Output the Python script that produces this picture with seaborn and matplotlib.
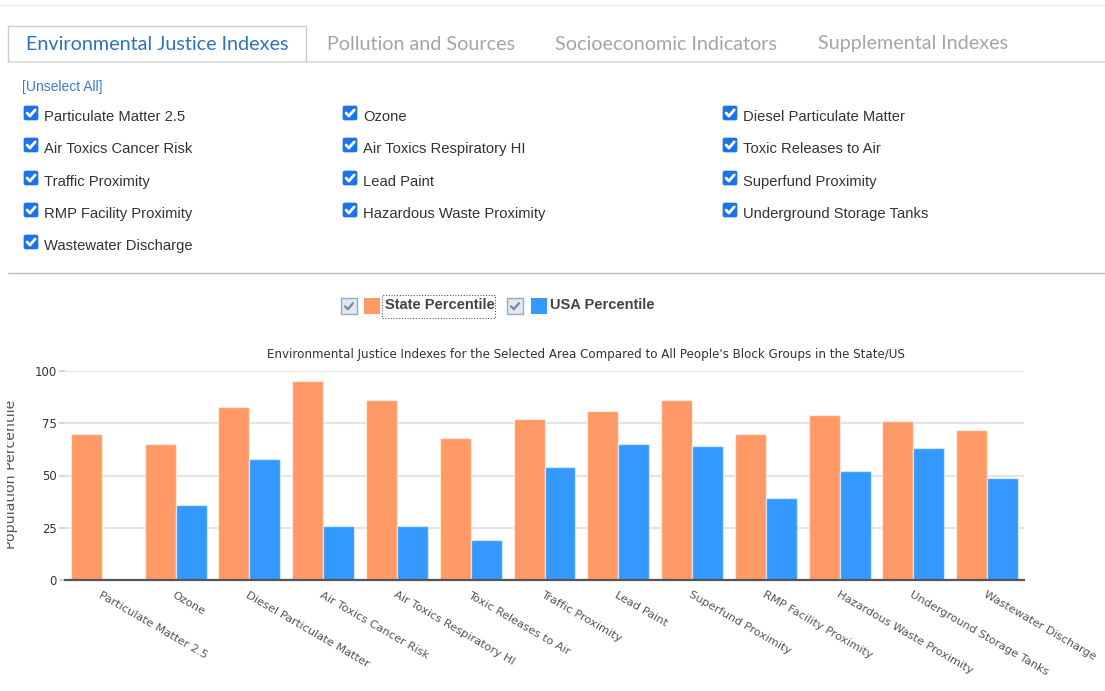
import numpy as np
import pandas as pd
import matplotlib
matplotlib.use("Agg")
import matplotlib.pyplot as plt
import seaborn as sns
from matplotlib.patches import FancyBboxPatch, Rectangle
from matplotlib.lines import Line2D
from matplotlib.transforms import Bbox, TransformedBbox

# ---------------- data ----------------
categories = [
    "Particulate Matter 2.5", "Ozone", "Diesel Particulate Matter",
    "Air Toxics Cancer Risk", "Air Toxics Respiratory HI", "Toxic Releases to Air",
    "Traffic Proximity", "Lead Paint", "Superfund Proximity",
    "RMP Facility Proximity", "Hazardous Waste Proximity",
    "Underground Storage Tanks", "Wastewater Discharge",
]
state_pct = [70, 65, 83, 95, 86, 68, 77, 81, 86, 70, 79, 76, 72]
usa_pct = [np.nan, 36, 58, 26, 26, 19, 54, 65, 64, 39, 52, 63, 49]
series_names = ["State Percentile", "USA Percentile"]
series_colors = ["#FF9966", "#3399FF"]
tabs = ["Environmental Justice Indexes", "Pollution and Sources",
        "Socioeconomic Indicators", "Supplemental Indexes"]
y_ticks = [0, 25, 50, 75, 100]
chart_title = ("Environmental Justice Indexes for the Selected Area Compared to "
               "All People's Block Groups in the State/US")
y_label = "Population Percentile"

# ---------------- figure ----------------
W, H = 1105, 691
sns.set_theme(style="white")
plt.rcParams["font.family"] = ["DejaVu Sans"]
fig = plt.figure(figsize=(W / 100, H / 100), dpi=100)
fig.patch.set_facecolor("white")


def fx(x):
    return x / W


def fy(y):
    return 1 - y / H


def hline(x0, x1, y, color, lw=1.0, ls="-"):
    fig.add_artist(Line2D([fx(x0), fx(x1)], [fy(y), fy(y)], color=color, lw=lw,
                          ls=ls, transform=fig.transFigure))


# top thin line
hline(0, W, 5, "#eeeeee", 1.0)

# ---------------- tabs ----------------
tab_centers = [157, 421, 666, 913]
hline(8, W, 62, "#dddddd", 1.2)
fig.add_artist(Line2D([fx(8), fx(8), fx(306), fx(306)],
                      [fy(62), fy(26), fy(26), fy(62)],
                      color="#cccccc", lw=1.0, transform=fig.transFigure))
for i, (t, cx) in enumerate(zip(tabs, tab_centers)):
    fig.text(fx(cx), fy(44), t, ha="center", va="center", fontsize=14.2,
             family="Lato", color="#2b73c2" if i == 0 else "#a5a5a5")

# ---------------- checkbox list ----------------
fig.text(fx(22), fy(87), "[Unselect All]", ha="left", va="center",
         fontsize=10, family="Liberation Sans", color="#3a7bc8")

col_x = [24, 343, 723]
row_y = [116, 148, 181, 213, 245]


def checkbox(x, y, size=14):
    box = FancyBboxPatch((fx(x), fy(y + size / 2)), size / W, size / H,
                         boxstyle="round,pad=0,rounding_size=0.002",
                         transform=fig.transFigure, facecolor="#1a73e8",
                         edgecolor="#1a73e8", lw=0.5)
    fig.add_artist(box)
    pts = [(0.22, 0.50), (0.42, 0.72), (0.80, 0.28)]
    xs = [fx(x + px * size) for px, py in pts]
    ys = [fy(y - size / 2 + py * size) for px, py in pts]
    fig.add_artist(Line2D(xs, ys, color="white", lw=2.0,
                          solid_capstyle="round", solid_joinstyle="round",
                          transform=fig.transFigure))


for k, name in enumerate(categories):
    r, c = divmod(k, 3)
    checkbox(col_x[c], row_y[r] - 3)
    fig.text(fx(col_x[c] + 20), fy(row_y[r] + 1), name, ha="left", va="center",
             fontsize=10.6, family="Liberation Sans", color="#333333")

hline(8, W, 273, "#bbbbbb", 1.0)

# ---------------- legend ----------------


def old_checkbox(x, y, size=16):
    fig.add_artist(Rectangle((fx(x), fy(y + size / 2)), size / W, size / H,
                             transform=fig.transFigure, facecolor="#dfe9f4",
                             edgecolor="#9aabbf", lw=1.0))
    pts = [(0.25, 0.52), (0.43, 0.70), (0.75, 0.32)]
    xs = [fx(x + px * size) for px, py in pts]
    ys = [fy(y - size / 2 + py * size) for px, py in pts]
    fig.add_artist(Line2D(xs, ys, color="#7d8a99", lw=1.6,
                          transform=fig.transFigure))


leg_items = [(341, 364, 385), (507, 531, 550)]
for (cbx, sqx, tx), name, col in zip(leg_items, series_names, series_colors):
    old_checkbox(cbx, 306)
    fig.add_artist(Rectangle((fx(sqx), fy(314)), 16 / W, 16 / H,
                             transform=fig.transFigure, facecolor=col,
                             edgecolor="none"))
    fig.text(fx(tx), fy(305), name, ha="left", va="center", fontsize=10.5,
             fontweight="bold", family="Liberation Sans", color="#444444")
# dotted focus rectangle around first legend label
fig.add_artist(Rectangle((fx(382), fy(318)), 113 / W, 23 / H,
                         transform=fig.transFigure, facecolor="none",
                         edgecolor="#555555", lw=0.8, ls=(0, (1, 1.5))))

# ---------------- chart ----------------
ax = fig.add_axes([fx(65), fy(580), (1024 - 65) / W, (580 - 371) / H])
df = pd.DataFrame({
    "Indicator": categories * 2,
    "Series": [series_names[0]] * len(categories) + [series_names[1]] * len(categories),
    "Percentile": state_pct + usa_pct,
}).dropna()
sns.barplot(data=df, x="Indicator", y="Percentile", hue="Series",
            order=categories, hue_order=series_names, palette=series_colors,
            saturation=1, width=0.84, errorbar=None, legend=False,
            edgecolor=(1, 1, 1, 0.55), linewidth=1.0, ax=ax)

ax.set_xlim(-0.5, len(categories) - 0.5)
ax.set_ylim(0, 100)
ax.set_yticks(y_ticks)
ax.set_yticklabels([str(v) for v in y_ticks])
ax.set_axisbelow(True)
ax.yaxis.grid(True, color="#e4e4e4", linewidth=1.6)
ax.xaxis.grid(False)
for s in ["left", "right", "top"]:
    ax.spines[s].set_visible(False)
ax.spines["bottom"].set_color("#555555")
ax.spines["bottom"].set_linewidth(1.6)
ax.set_xlabel("")
ax.set_ylabel("")
ax.tick_params(axis="y", labelsize=8.4, labelcolor="#333333", length=4,
               color="#d0d0d0", pad=2, left=True)
ax.set_xticks(range(len(categories)))
ax.set_xticklabels(categories, rotation=-30, ha="left", va="top",
                   rotation_mode="anchor", fontsize=8.2, color="#555555")
ax.tick_params(axis="x", length=0, pad=7)
ax.set_facecolor("white")

fig.text(fx(586), fy(354), chart_title, ha="center", va="center", fontsize=8.6,
         color="#333333")

yl = fig.text(fx(18), fy(474), y_label, rotation=90, ha="right", va="center",
              fontsize=10.2, color="#555555")
yl.set_clip_on(True)
yl.set_clip_box(TransformedBbox(Bbox([[fx(7), 0], [1, 1]]), fig.transFigure))

fig.savefig("out.png", dpi=100, facecolor="white")
